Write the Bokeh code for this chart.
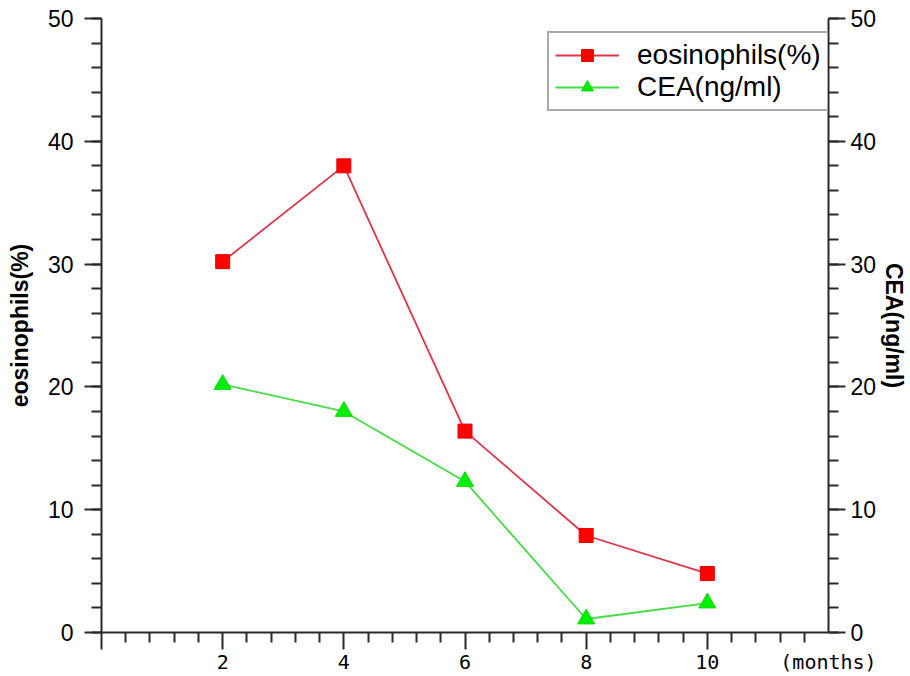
from bokeh.plotting import figure
from bokeh.models import (Range1d, LinearAxis, FixedTicker, SingleIntervalTicker,
                          Legend, LegendItem)
from bokeh.embed import file_html
from bokeh.resources import INLINE

# ---- data ----
months = [2, 4, 6, 8, 10]
eosinophils = [30.2, 38.0, 16.4, 7.9, 4.8]
cea = [20.2, 18.0, 12.3, 1.1, 2.4]
x_major_ticks = [0, 2, 4, 6, 8, 10]
x_minor_ticks = [0.4, 0.8, 1.2, 1.6, 2.4, 2.8, 3.2, 3.6, 4.4, 4.8, 5.2, 5.6,
                 6.4, 6.8, 7.2, 7.6, 8.4, 8.8, 9.2, 9.6, 10.4, 10.8, 11.2, 11.6]
x_label_ticks = [2, 4, 6, 8, 10, 12]
x_unit_label = "(months)"
y_label_left = "eosinophils(%)"
y_label_right = "CEA(ng/ml)"

p = figure(width=910, height=676,
           x_range=Range1d(0, 12), y_range=Range1d(0, 50),
           x_axis_type=None, y_axis_type=None,
           output_backend="svg", toolbar_location=None,
           min_border_left=101, min_border_right=81,
           min_border_top=18, min_border_bottom=44)
p.extra_y_ranges = {"cea": Range1d(0, 50)}
p.outline_line_color = None
p.background_fill_color = "white"
p.border_fill_color = "white"

AX = "#2a2a2a"

def style(ax, font="Liberation Sans", size="23px"):
    ax.axis_line_color = AX
    ax.axis_line_width = 2
    ax.major_tick_line_color = AX
    ax.minor_tick_line_color = AX
    ax.major_tick_line_width = 2
    ax.minor_tick_line_width = 2
    ax.major_tick_in = 0
    ax.minor_tick_in = 0
    ax.major_tick_out = 17
    ax.minor_tick_out = 10
    ax.major_label_text_font = font
    ax.major_label_text_font_size = size
    ax.major_label_text_color = "black"
    ax.axis_label_text_font = "Liberation Sans"
    ax.axis_label_text_font_style = "bold"
    ax.axis_label_text_font_size = "23px"
    ax.axis_label_text_color = "black"

# inner x axis: line + ticks only
xaxis = LinearAxis(ticker=FixedTicker(ticks=x_major_ticks, minor_ticks=x_minor_ticks),
                   major_label_overrides={t: "" for t in x_major_ticks})
style(xaxis, font="DejaVu Sans Mono", size="1px")
xaxis.major_label_standoff = 0
p.add_layout(xaxis, "below")

# outer x axis: tick labels (incl. unit label at the right end)
xlab = LinearAxis(ticker=FixedTicker(ticks=x_label_ticks, minor_ticks=[]),
                  major_label_overrides={12: x_unit_label})
style(xlab, font="DejaVu Sans Mono", size="20px")
xlab.axis_line_color = None
xlab.major_tick_line_color = None
xlab.minor_tick_line_color = None
xlab.major_tick_out = 0
xlab.minor_tick_out = 0
xlab.major_label_standoff = 0
p.add_layout(xlab, "below")

yleft = LinearAxis(ticker=SingleIntervalTicker(interval=10, num_minor_ticks=5),
                   axis_label=y_label_left)
style(yleft)
yleft.major_label_standoff = 11
yleft.axis_label_standoff = 12
p.add_layout(yleft, "left")

yright = LinearAxis(y_range_name="cea",
                    ticker=SingleIntervalTicker(interval=10, num_minor_ticks=5),
                    axis_label=y_label_right)
style(yright)
yright.major_label_standoff = 5
yright.axis_label_standoff = 2
p.add_layout(yright, "right")

r1l = p.line(months, eosinophils, line_color="#e0344a", line_width=1.8)
r1s = p.scatter(months, eosinophils, marker="square", size=14,
                fill_color="#ff0000", line_color="#ee0000")
r2l = p.line(months, cea, y_range_name="cea", line_color="#44dd44", line_width=1.8)
r2s = p.scatter(months, cea, y_range_name="cea", marker="triangle", size=17,
                fill_color="#00ee00", line_color="#00dd00")

legend = Legend(items=[LegendItem(label="eosinophils(%)", renderers=[r1l, r1s]),
                       LegendItem(label="CEA(ng/ml)", renderers=[r2l, r2s])],
                location=(446, 521),
                border_line_color="#555555", border_line_width=2,
                background_fill_color="white", background_fill_alpha=1,
                label_text_font="Liberation Sans", label_text_font_size="28px",
                label_text_color="black",
                glyph_width=64, glyph_height=30, label_height=30,
                label_standoff=18, padding=6, spacing=0, margin=0)
p.add_layout(legend)

open("out.html", "w").write(file_html(p, INLINE))
